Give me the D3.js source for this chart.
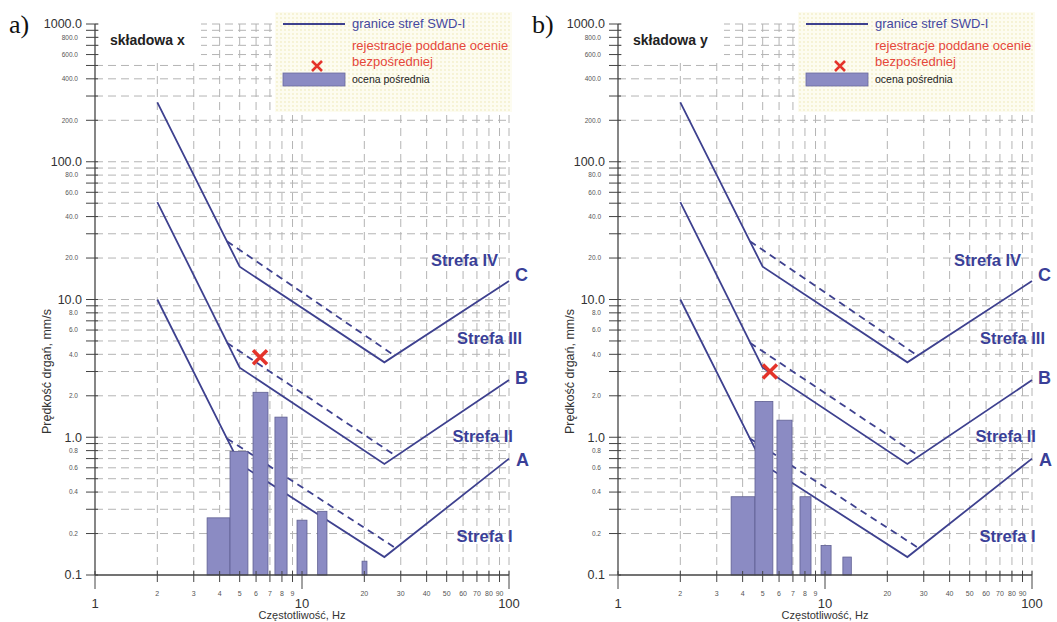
<!DOCTYPE html>
<html>
<head>
<meta charset="utf-8">
<script src="https://cdn.jsdelivr.net/npm/d3@7"></script>
<style>
  body { margin: 0; background: #fff; }
  text { font-family: "Liberation Sans", Arial, sans-serif; }
  text.letter { font-family: "Liberation Serif", "DejaVu Serif", serif; }
</style>
</head>
<body>
<svg width="1057" height="622"></svg>
<script>
const svg = d3.select('svg');

const plotWidth = 414;
const plotHeight = 551;

// zone boundary lines of the SWD-I scale [frequency Hz, velocity mm/s]
const lineA = [[2, 10], [5, 0.64], [25, 0.135], [100, 0.7]];
const lineB = [[2, 51], [5, 3.2], [25, 0.64], [100, 2.6]];
const lineC = [[2, 270], [5, 17.3], [25, 3.5], [100, 13.6]];
const dashA = [[4.34, 0.98], [28.1, 0.158]];
const dashB = [[4.34, 4.85], [28.1, 0.74]];
const dashC = [[4.34, 26.5], [28.1, 3.9]];

// indirect assessment bars [from Hz, to Hz, velocity]
const barsX = [[3.48, 4.49, 0.26], [4.49, 5.48, 0.79], [5.8, 6.85, 2.12], [7.4, 8.47, 1.40],
               [9.46, 10.57, 0.25], [11.9, 13.2, 0.29], [19.5, 20.6, 0.126]];
const barsY = [[3.52, 4.59, 0.37], [4.59, 5.6, 1.82], [5.86, 6.93, 1.33], [7.57, 8.56, 0.37],
               [9.57, 10.7, 0.164], [12.2, 13.4, 0.135]];

// direct assessment records [Hz, velocity]
const markX = [[6.27, 3.81]];
const markY = [[5.42, 3.0]];

// zone labels [text, Hz, velocity, anchor]
const zoneLabels = [
  ['Strefa IV', 88.5, 17.4, 'end'],
  ['Strefa III', 115.6, 4.73, 'end'],
  ['Strefa II', 104.5, 0.92, 'end'],
  ['Strefa I', 104, 0.173, 'end']
];
const lineLabels = [['C', 107, 13.6], ['B', 107, 2.43], ['A', 108, 0.616]];

// ticks
const yMajor = [0.1, 1, 10, 100, 1000];
const yMinorLabeled = [0.2, 0.4, 0.6, 0.8, 2, 4, 6, 8, 20, 40, 60, 80, 200, 400, 600, 800];
const xMajor = [1, 10, 100];
const xMinorLabeled = [2, 3, 4, 5, 6, 7, 8, 9, 20, 30, 40, 50, 60, 70, 80, 90];

const lineColor = '#3e418f';
const labelColor = '#3a3f98';

// all 1..9 multiples per decade
function decadeValues(lo, hi) {
  const out = [];
  for (let d = lo; d < hi; d *= 10) {
    for (let k = 1; k < 10; k++) out.push(+(k * d).toPrecision(3));
  }
  out.push(hi);
  return out;
}

const x = d3.scaleLog().domain([1, 100]).range([0, plotWidth]);
const y = d3.scaleLog().domain([0.1, 1000]).range([plotHeight, 0]);

// dotted legend background
const defs = svg.append('defs');
const pat = defs.append('pattern')
  .attr('id', 'dots').attr('width', 4).attr('height', 4)
  .attr('patternUnits', 'userSpaceOnUse');
pat.append('rect').attr('width', 4).attr('height', 4).attr('fill', '#fdfcf0');
pat.append('circle').attr('cx', 2).attr('cy', 2).attr('r', 0.7).attr('fill', '#ebe3a8');

function drawPanel(ox, letter, title, bars, marks) {
  const g = svg.append('g').attr('transform', `translate(${ox},24)`);

  // grid
  const yGrid = decadeValues(0.1, 1000).filter(v => v > 0.1);
  const xGrid = decadeValues(1, 100).filter(v => v >= 2);
  g.append('g').selectAll('line').data(yGrid).join('line')
    .attr('x1', 0).attr('x2', plotWidth)
    .attr('y1', d => y(d)).attr('y2', d => y(d))
    .attr('stroke', '#b4b4b4').attr('stroke-dasharray', '8,5');
  g.append('g').selectAll('line').data(xGrid).join('line')
    .attr('x1', d => x(d)).attr('x2', d => x(d))
    .attr('y1', 0).attr('y2', plotHeight)
    .attr('stroke', '#b4b4b4').attr('stroke-dasharray', '8,5');

  // title box
  g.append('rect').attr('x', 4).attr('y', -4).attr('width', 102).attr('height', 38).attr('fill', '#fff');
  g.append('text').attr('x', 15).attr('y', 21)
    .attr('font-size', 14).attr('font-weight', 'bold').attr('fill', '#222')
    .text(title);

  // zone lines
  const line = d3.line().x(d => x(d[0])).y(d => y(d[1]));
  [lineA, lineB, lineC].forEach(l => {
    g.append('path').attr('d', line(l)).attr('fill', 'none')
      .attr('stroke', lineColor).attr('stroke-width', 1.8);
  });
  [dashA, dashB, dashC].forEach(l => {
    g.append('path').attr('d', line(l)).attr('fill', 'none')
      .attr('stroke', lineColor).attr('stroke-width', 1.8).attr('stroke-dasharray', '7,5');
  });

  // bars
  g.append('g').selectAll('rect').data(bars).join('rect')
    .attr('x', d => x(d[0])).attr('width', d => x(d[1]) - x(d[0]))
    .attr('y', d => y(d[2])).attr('height', d => y(0.1) - y(d[2]))
    .attr('fill', '#8b8bc3').attr('stroke', '#5f5f92').attr('stroke-width', 0.8);

  // axes
  g.append('line').attr('x1', 0).attr('x2', 0).attr('y1', y(1000)).attr('y2', plotHeight)
    .attr('stroke', '#444').attr('stroke-width', 1.3);
  g.append('line').attr('x1', 0).attr('x2', plotWidth).attr('y1', plotHeight).attr('y2', plotHeight)
    .attr('stroke', '#444').attr('stroke-width', 1.3);

  const yt = g.append('g');
  yt.selectAll('line').data(decadeValues(0.1, 1000)).join('line')
    .attr('x1', -9).attr('x2', 3).attr('y1', d => y(d)).attr('y2', d => y(d))
    .attr('stroke', '#444').attr('stroke-width', 1);
  yt.selectAll('text.maj').data(yMajor).join('text').attr('class', 'maj')
    .attr('x', -13).attr('y', d => y(d)).attr('dy', '0.35em')
    .attr('text-anchor', 'end').attr('font-size', 12.5).attr('fill', '#333')
    .text(d => d3.format('.1f')(d));
  yt.selectAll('text.min').data(yMinorLabeled).join('text').attr('class', 'min')
    .attr('x', -17).attr('y', d => y(d)).attr('dy', '0.35em')
    .attr('text-anchor', 'end').attr('font-size', 6.5).attr('fill', '#555')
    .text(d => d3.format('.1f')(d));

  const xt = g.append('g');
  xt.selectAll('line').data(decadeValues(1, 100)).join('line')
    .attr('x1', d => x(d)).attr('x2', d => x(d))
    .attr('y1', plotHeight - 4)
    .attr('y2', d => xMajor.includes(d) ? plotHeight + 14 : plotHeight + 7)
    .attr('stroke', '#444').attr('stroke-width', 1);
  xt.selectAll('text.min').data(xMinorLabeled).join('text').attr('class', 'min')
    .attr('x', d => x(d)).attr('y', plotHeight + 21)
    .attr('text-anchor', 'middle').attr('font-size', 7).attr('fill', '#555')
    .text(d => d);
  xt.selectAll('text.maj').data(xMajor).join('text').attr('class', 'maj')
    .attr('x', d => x(d)).attr('y', plotHeight + 33)
    .attr('text-anchor', 'middle').attr('font-size', 13).attr('fill', '#333')
    .text(d => d);

  g.append('text').attr('x', x(10)).attr('y', plotHeight + 44)
    .attr('text-anchor', 'middle').attr('font-size', 11).attr('fill', '#333')
    .text('Częstotliwość, Hz');
  g.append('text')
    .attr('transform', `translate(-44,${y(3)}) rotate(-90)`)
    .attr('text-anchor', 'middle').attr('font-size', 12.5).attr('fill', '#333')
    .text('Prędkość drgań, mm/s');

  // zone labels
  g.append('g').selectAll('text').data(zoneLabels).join('text')
    .attr('x', d => x(d[1])).attr('y', d => y(d[2]))
    .attr('text-anchor', d => d[3])
    .attr('font-size', 16.5).attr('font-weight', 'bold').attr('fill', labelColor)
    .text(d => d[0]);
  g.append('g').selectAll('text').data(lineLabels).join('text')
    .attr('x', d => x(d[1])).attr('y', d => y(d[2]))
    .attr('font-size', 18).attr('font-weight', 'bold').attr('fill', labelColor)
    .text(d => d[0]);

  // red crosses
  const cross = (sel, cx, cy, r, w) => {
    sel.append('path')
      .attr('d', `M${cx - r},${cy - r}L${cx + r},${cy + r}M${cx - r},${cy + r}L${cx + r},${cy - r}`)
      .attr('stroke', '#e4332a').attr('stroke-width', w).attr('fill', 'none');
  };
  marks.forEach(m => cross(g, x(m[0]), y(m[1]), 7, 3.5));

  // legend
  const lg = g.append('g').attr('transform', 'translate(180,-12)');
  lg.append('rect').attr('width', 237).attr('height', 100).attr('fill', 'url(#dots)');
  lg.append('line').attr('x1', 8).attr('x2', 70).attr('y1', 12).attr('y2', 12)
    .attr('stroke', lineColor).attr('stroke-width', 2);
  lg.append('text').attr('x', 77).attr('y', 16).attr('font-size', 13).attr('fill', '#4548a0')
    .text('granice stref SWD-I');
  cross(lg, 42, 54, 5, 2.6);
  lg.append('text').attr('x', 77).attr('y', 38).attr('font-size', 13).attr('fill', '#e5473a')
    .text('rejestracje poddane ocenie');
  lg.append('text').attr('x', 77).attr('y', 54).attr('font-size', 13).attr('fill', '#e5473a')
    .text('bezpośredniej');
  lg.append('rect').attr('x', 8).attr('y', 61).attr('width', 62).attr('height', 13)
    .attr('fill', '#8b8bc3').attr('stroke', '#6a6a9e').attr('stroke-width', 0.8);
  lg.append('text').attr('x', 77).attr('y', 71).attr('font-size', 10.5).attr('fill', '#222')
    .text('ocena pośrednia');

  // panel letter
  svg.append('text').attr('class', 'letter').attr('x', ox - 86).attr('y', 33)
    .attr('font-size', 26).attr('fill', '#111')
    .text(letter);
}

drawPanel(95, 'a)', 'składowa x', barsX, markX);
drawPanel(618, 'b)', 'składowa y', barsY, markY);
</script>
</body>
</html>
